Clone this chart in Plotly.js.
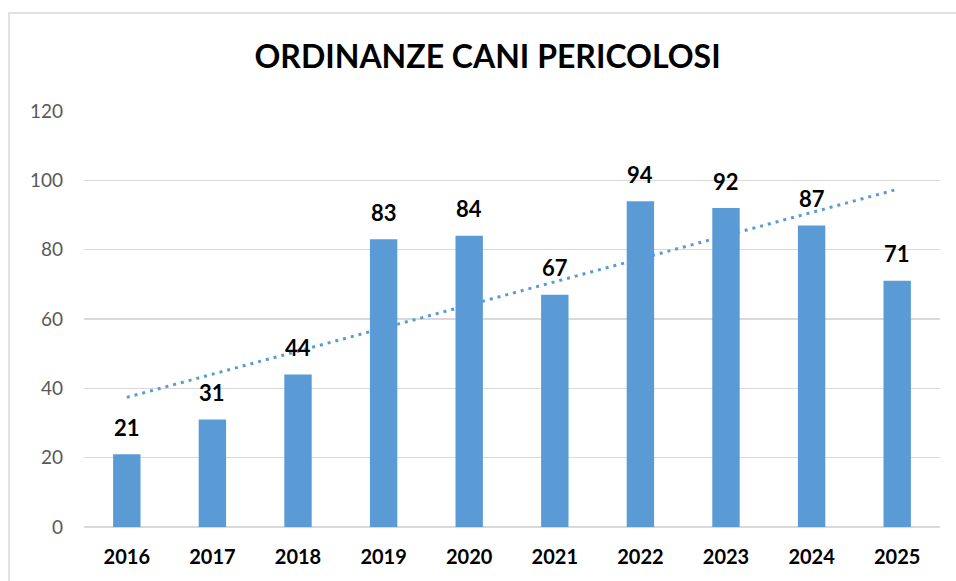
<!DOCTYPE html>
<html>
<head>
<meta charset="utf-8">
<script src="https://cdn.plot.ly/plotly-3.0.1.min.js"></script>
<style>html,body{margin:0;padding:0;background:#fff;}#chart{width:956px;height:581px;}</style>
</head>
<body>
<div id="chart"></div>
<script>
const years = ['2016','2017','2018','2019','2020','2021','2022','2023','2024','2025'];
const ordinanze = [21, 31, 44, 83, 84, 67, 94, 92, 87, 71];
// linear trend line endpoints
const trendYears = ['2016','2025'];
const trendValues = [37.4, 97.4];

const blue = '#5B9BD5';
const font = 'Lato, "Open Sans", sans-serif';

const bars = {
  type: 'bar', x: years, y: ordinanze, width: 0.32,
  marker: {color: blue}, hoverinfo: 'x+y', showlegend: false
};
const trend = {
  type: 'scatter', mode: 'lines', x: trendYears, y: trendValues,
  line: {color: blue, width: 3, dash: '3px,5px'}, showlegend: false, hoverinfo: 'skip'
};

const annotations = years.map((yr, i) => ({
  x: i, y: ordinanze[i], xref: 'x', yref: 'y', text: '<b>' + ordinanze[i] + '</b>',
  showarrow: false, yanchor: 'middle', yshift: 27,
  font: {family: font, size: 22, color: '#000'}
}));

const layout = {
  width: 956, height: 581,
  margin: {l: 84, r: 16, t: 111, b: 54},
  paper_bgcolor: '#fff', plot_bgcolor: '#fff',
  title: {text: '<b>ORDINANZE CANI PERICOLOSI</b>', font: {family: font, size: 32, color: '#000'},
          x: 0.51, xanchor: 'center', y: 1 - 57/581, yanchor: 'middle', yref: 'container'},
  xaxis: {type: 'category', categoryorder: 'array', categoryarray: years, range: [-0.5, 9.5],
          showgrid: false, zeroline: false, showline: false, ticks: '',
          tickfont: {family: font, size: 20, color: '#000', weight: 'bold'}, ticklabelstandoff: 16},
  yaxis: {range: [0, 120], dtick: 20, tick0: 0, showgrid: true, gridcolor: '#D9D9D9', gridwidth: 1.5,
          zeroline: true, zerolinecolor: '#D9D9D9', zerolinewidth: 1.5, showline: false, ticks: '',
          tickfont: {family: font, size: 19, color: '#595959'}, ticklabelstandoff: 20},
  bargap: 0.68,
  shapes: [{type: 'rect', xref: 'paper', yref: 'paper', x0: -0.0876, x1: 1.03, y0: -0.2, y1: 1.2356,
            line: {color: '#D9D9D9', width: 1.5}, fillcolor: 'rgba(0,0,0,0)', layer: 'below'}],
  annotations: annotations
};

Plotly.newPlot('chart', [bars, trend], layout, {displayModeBar: false, staticPlot: true});
</script>
</body>
</html>
